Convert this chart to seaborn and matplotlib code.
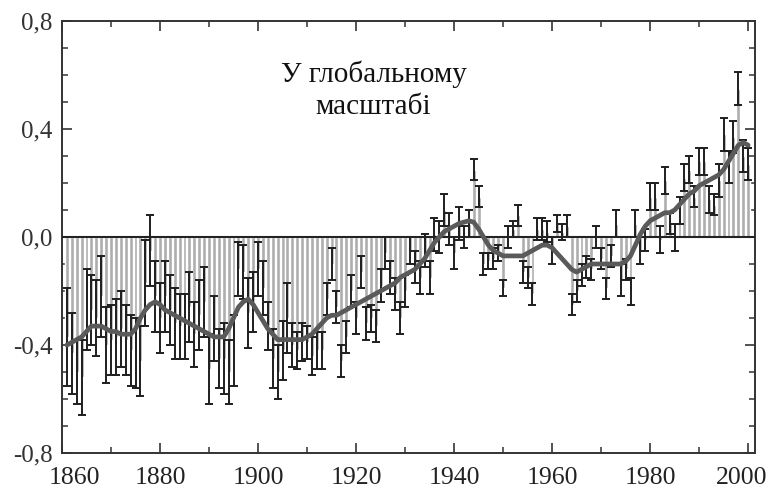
import numpy as np
import pandas as pd
import matplotlib
matplotlib.use("Agg")
import matplotlib.pyplot as plt
import matplotlib.transforms as mtransforms
import seaborn as sns
from matplotlib.ticker import MultipleLocator, FixedLocator, FixedFormatter

# ---- data ----
years = list(range(1861, 2001))

anomaly = [
    -0.37, -0.43, -0.50, -0.52, -0.27, -0.27, -0.30, -0.22, -0.40, -0.38,   # 1861-1870
    -0.37, -0.34, -0.38, -0.42, -0.43, -0.46, -0.17, -0.05, -0.22, -0.30,   # 1871-1880
    -0.22, -0.27, -0.32, -0.33, -0.33, -0.26, -0.36, -0.29, -0.24, -0.49,   # 1881-1890
    -0.34, -0.45, -0.45, -0.50, -0.42, -0.12, -0.13, -0.28, -0.24, -0.12,   # 1891-1900
    -0.19, -0.33, -0.45, -0.50, -0.42, -0.30, -0.40, -0.42, -0.39, -0.39,   # 1901-1910
    -0.44, -0.42, -0.42, -0.23, -0.10, -0.26, -0.46, -0.37, -0.20, -0.30,   # 1911-1920
    -0.13, -0.32, -0.30, -0.33, -0.18, -0.06, -0.15, -0.21, -0.30, -0.20,   # 1921-1930
    -0.05, -0.11, -0.15, -0.05, -0.15, 0.01, 0.00, 0.10, 0.03, -0.06,       # 1931-1940
    0.05, 0.00, 0.05, 0.25, 0.15, -0.10, -0.09, -0.08, -0.06, -0.19,        # 1941-1950
    0.00, 0.03, 0.08, -0.13, -0.15, -0.21, 0.03, 0.03, 0.02, -0.05,         # 1951-1960
    0.05, 0.02, 0.04, -0.25, -0.20, -0.14, -0.11, -0.12, 0.00, -0.08,       # 1961-1970
    -0.19, -0.07, 0.05, -0.16, -0.12, -0.20, 0.05, -0.05, -0.01, 0.15,      # 1971-1980
    0.15, -0.01, 0.21, 0.05, 0.00, 0.10, 0.22, 0.25, 0.15, 0.28,            # 1981-1990
    0.28, 0.14, 0.12, 0.21, 0.38, 0.26, 0.37, 0.55, 0.30, 0.27,             # 1991-2000
]

uncertainty = [
    0.18, 0.15, 0.12, 0.14, 0.15, 0.13, 0.14, 0.15, 0.14, 0.13,
    0.14, 0.14, 0.13, 0.13, 0.13, 0.13, 0.16, 0.13, 0.13, 0.13,
    0.13, 0.13, 0.13, 0.12, 0.12, 0.13, 0.12, 0.13, 0.13, 0.13,
    0.12, 0.11, 0.13, 0.12, 0.13, 0.10, 0.10, 0.13, 0.11, 0.10,
    0.10, 0.09, 0.11, 0.10, 0.11, 0.13, 0.08, 0.07, 0.07, 0.06,
    0.07, 0.07, 0.07, 0.06, 0.06, 0.06, 0.06, 0.06, 0.06, 0.06,
    0.06, 0.06, 0.05, 0.06, 0.06, 0.06, 0.06, 0.06, 0.06, 0.06,
    0.05, 0.06, 0.06, 0.06, 0.06, 0.06, 0.06, 0.06, 0.06, 0.06,
    0.06, 0.04, 0.05, 0.04, 0.04, 0.04, 0.03, 0.04, 0.03, 0.03,
    0.04, 0.03, 0.04, 0.04, 0.04, 0.04, 0.04, 0.04, 0.04, 0.05,
    0.03, 0.03, 0.04, 0.04, 0.04, 0.04, 0.04, 0.04, 0.04, 0.04,
    0.04, 0.04, 0.05, 0.06, 0.04, 0.05, 0.05, 0.05, 0.04, 0.05,
    0.05, 0.05, 0.05, 0.04, 0.05, 0.05, 0.05, 0.05, 0.04, 0.05,
    0.05, 0.05, 0.04, 0.06, 0.06, 0.06, 0.06, 0.06, 0.06, 0.06,
]

smoothed = [
    -0.40, -0.39, -0.38, -0.37, -0.35, -0.33, -0.33, -0.33, -0.34, -0.35,  # 1861-1870
    -0.35, -0.36, -0.36, -0.36, -0.34, -0.30, -0.27, -0.25, -0.24, -0.25,  # 1871-1880
    -0.27, -0.28, -0.29, -0.30, -0.31, -0.32, -0.33, -0.34, -0.35, -0.36,  # 1881-1890
    -0.37, -0.37, -0.37, -0.34, -0.30, -0.26, -0.24, -0.23, -0.25, -0.28,  # 1891-1900
    -0.31, -0.34, -0.36, -0.38, -0.38, -0.38, -0.38, -0.38, -0.38, -0.37,  # 1901-1910
    -0.36, -0.34, -0.32, -0.30, -0.29, -0.29, -0.28, -0.27, -0.26, -0.25,  # 1911-1920
    -0.24, -0.23, -0.22, -0.21, -0.20, -0.19, -0.18, -0.17, -0.15, -0.14,  # 1921-1930
    -0.13, -0.12, -0.10, -0.08, -0.05, -0.02, 0.00, 0.02, 0.03, 0.04,      # 1931-1940
    0.05, 0.055, 0.06, 0.055, 0.03, 0.00, -0.03, -0.05, -0.06, -0.07,      # 1941-1950
    -0.07, -0.07, -0.07, -0.07, -0.06, -0.05, -0.04, -0.03, -0.03, -0.04,  # 1951-1960
    -0.06, -0.08, -0.10, -0.12, -0.13, -0.12, -0.11, -0.10, -0.10, -0.10,  # 1961-1970
    -0.10, -0.10, -0.10, -0.10, -0.09, -0.07, -0.03, 0.01, 0.04, 0.06,     # 1971-1980
    0.07, 0.08, 0.09, 0.09, 0.10, 0.12, 0.14, 0.16, 0.17, 0.19,            # 1981-1990
    0.20, 0.21, 0.22, 0.23, 0.25, 0.28, 0.31, 0.34, 0.35, 0.34,            # 1991-2000
]

title_text = "У глобальному\nмасштабі"
ytick_values = [-0.8, -0.4, 0.0, 0.4, 0.8]
ytick_labels = ["-0,8", "-0,4", "0,0", "0,4", "0,8"]
xtick_values = [1860, 1880, 1900, 1920, 1940, 1960, 1980, 2000]
xtick_labels = ["1860", "1880", "1900", "1920", "1940", "1960", "1980", "2000"]

df = pd.DataFrame({"year": years, "anomaly": anomaly, "err": uncertainty, "smooth": smoothed})

# ---- style ----
sns.set_theme(style="ticks")
plt.rcParams["font.family"] = ["Liberation Serif", "DejaVu Serif"]

fig = plt.figure(figsize=(7.72, 4.95), dpi=100)
ax = fig.add_axes([62 / 772, 1 - 453 / 495, (755 - 62) / 772, (453 - 21) / 495])

sns.barplot(data=df, x="year", y="anomaly", native_scale=True, color="#adadad",
            saturation=1, width=0.8, errorbar=None, ax=ax, zorder=2)
ax.errorbar(df["year"], df["anomaly"], yerr=df["err"], fmt="none", ecolor="#1e1e1e",
            elinewidth=1.4, capsize=2.6, capthick=1.4, zorder=3)
ax.axhline(0, color="#222222", lw=1.5, zorder=4)
sns.lineplot(data=df, x="year", y="smooth", color="#5a5a5a", lw=3.4, ax=ax, zorder=5)

ax.set_xlim(1860, 2001.4)
ax.set_ylim(-0.8, 0.8)
ax.set_xlabel("")
ax.set_ylabel("")

ax.xaxis.set_major_locator(FixedLocator(xtick_values))
ax.xaxis.set_major_formatter(FixedFormatter(xtick_labels))
ax.xaxis.set_minor_locator(MultipleLocator(10))
ax.yaxis.set_major_locator(FixedLocator(ytick_values))
ax.yaxis.set_major_formatter(FixedFormatter(ytick_labels))
ax.yaxis.set_minor_locator(MultipleLocator(0.1))

ax.tick_params(which="both", direction="in", top=True, right=True, color="#333333")
ax.tick_params(which="major", length=7, width=1.2)
ax.tick_params(which="minor", length=4, width=1.1)
ax.tick_params(axis="y", which="major", labelsize=18, pad=7, labelcolor="#333333")
ax.tick_params(axis="x", which="major", labelsize=18.5, pad=10, labelcolor="#222222")
for s in ax.spines.values():
    s.set_linewidth(1.4)
    s.set_color("#333333")

# nudge the end labels inwards as in the reference
fig.canvas.draw()
xlabs = ax.get_xticklabels()
xlabs[0].set_transform(xlabs[0].get_transform() +
                       mtransforms.ScaledTranslation(12 / 100, 0, fig.dpi_scale_trans))
xlabs[-1].set_transform(xlabs[-1].get_transform() +
                        mtransforms.ScaledTranslation(-7 / 100, 0, fig.dpi_scale_trans))

fig.text(0.484, 0.818, title_text, ha="center", va="center", fontsize=21,
         color="#111111", linespacing=1.3)

fig.savefig("out.png", dpi=100, facecolor="white")
